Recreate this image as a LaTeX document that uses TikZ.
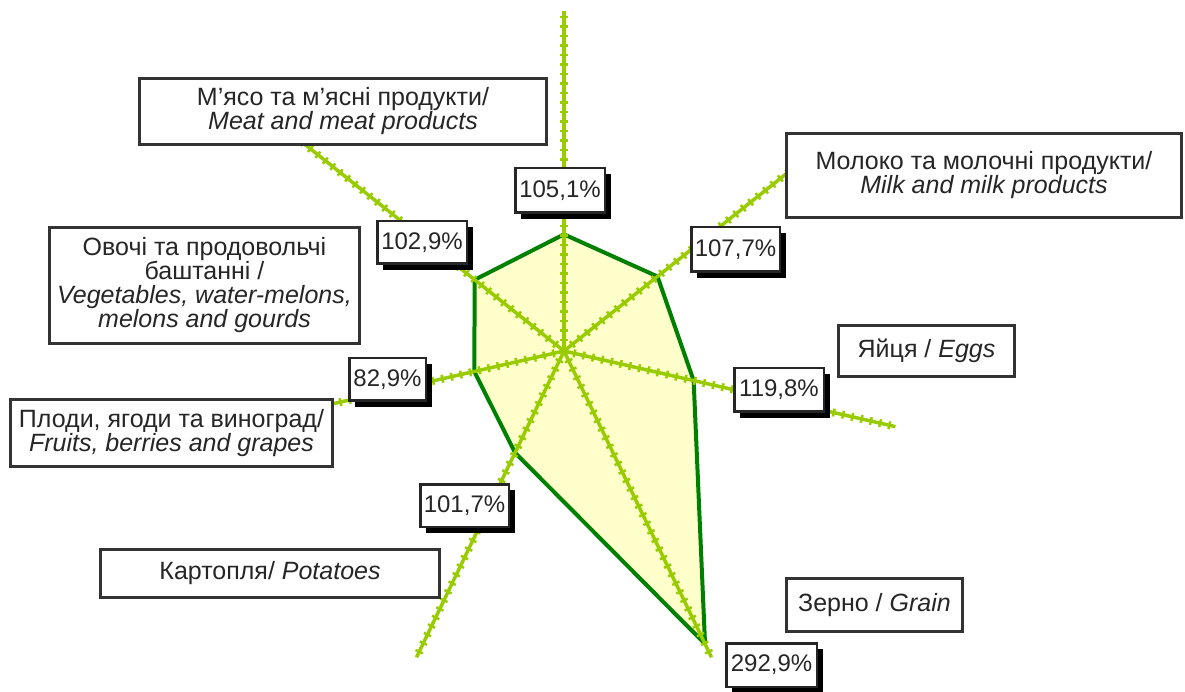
\documentclass[tikz,border=0pt]{standalone}
\usepackage{fontspec}
\setmainfont{Liberation Sans}
\usetikzlibrary{shadows}
\definecolor{axisgreen}{HTML}{99CC00}
\definecolor{polyline}{HTML}{008000}
\definecolor{polyfill}{HTML}{FFFFCC}
\begin{document}
\begin{tikzpicture}[x=1pt,y=1pt,
  catbox/.style={draw=black!80, line width=3pt, fill=white, align=center,
    text=black!85, font=\fontsize{25}{24}\selectfont, inner sep=0pt},
  valbox/.style={draw=black!85, line width=2.5pt, fill=white, text=black!85,
    font=\fontsize{24}{26}\selectfont, inner sep=0pt,
    general shadow={fill=black, shadow xshift=6pt, shadow yshift=-6pt}},
  axisline/.style={axisgreen, line width=3.5pt},
  axisticks/.style={axisgreen, line width=8pt, dash pattern=on 2.5pt off 7pt},
  radar/.style={draw=polyline, line width=4pt, fill=polyfill, line join=round}]
\useasboundingbox (0,0) rectangle (1185,691);
\coordinate (c) at (564,340);
% axis ends
\path (c) ++(90:340)      coordinate (e1);
\path (c) ++(38.57:340)   coordinate (e2);
\path (c) ++(-12.86:340)  coordinate (e3);
\path (c) ++(-64.29:340)  coordinate (e4);
\path (c) ++(-115.71:340) coordinate (e5);
\path (c) ++(-167.14:340) coordinate (e6);
\path (c) ++(141.43:340)  coordinate (e7);
% data points
\path (c) ++(90:{105.1*1.11})      coordinate (v1);
\path (c) ++(38.57:{107.7*1.11})   coordinate (v2);
\path (c) ++(-12.86:{119.8*1.11})  coordinate (v3);
\path (c) ++(-64.29:{292.9*1.11})  coordinate (v4);
\path (c) ++(-115.71:{101.7*1.11}) coordinate (v5);
\path (c) ++(-167.14:{82.9*1.11})  coordinate (v6);
\path (c) ++(141.43:{102.9*1.11})  coordinate (v7);
% polygon
\draw[radar] (v1) -- (v2) -- (v3) -- (v4) -- (v5) -- (v6) -- (v7) -- cycle;
% axes
\foreach \e in {e1,e2,e3,e4,e5,e6,e7}{
  \draw[axisline] (c) -- (\e);
  \draw[axisticks] (c) -- (\e);
}
% category boxes
\node[catbox, minimum width=407, minimum height=66] (meat) at (343,579.5)
  {М’ясо та м’ясні продукти/\\\textit{Meat and meat products}};
\node[catbox, minimum width=395, minimum height=84] (milk) at (984,515.5)
  {Молоко та молочні продукти/\\\textit{Milk and milk products}};
\node[catbox, minimum width=310, minimum height=116] (veg) at (204.5,405.5)
  {Овочі та продовольчі\\баштанні /\\\textit{Vegetables, water-melons,}\\\textit{melons and gourds}};
\node[catbox, minimum width=176, minimum height=51] (eggs) at (926.5,340)
  {Яйця / \textit{Eggs}};
\node[catbox, minimum width=322, minimum height=67] (fruits) at (171.5,258)
  {Плоди, ягоди та виноград/\\\textit{Fruits, berries and grapes}};
\node[catbox, minimum width=339, minimum height=48] (potatoes) at (270,117.5)
  {Картопля/ \textit{Potatoes}};
\node[catbox, minimum width=176, minimum height=53] (grain) at (874.5,86)
  {Зерно / \textit{Grain}};
% value boxes
\node[valbox, minimum width=89.5, minimum height=44.5] (p1) at (560,500.5) {105,1\%};
\node[valbox, minimum width=88.5, minimum height=44.5] (p2) at (735.5,441.5) {107,7\%};
\node[valbox, minimum width=89.5, minimum height=43.5] (p3) at (779,301) {119,8\%};
\node[valbox, minimum width=90.5, minimum height=43.5] (p4) at (771.5,26) {292,9\%};
\node[valbox, minimum width=88.5, minimum height=42.5] (p5) at (464.5,185.5) {101,7\%};
\node[valbox, minimum width=76.5, minimum height=42.5] (p6) at (387.5,311.5) {82,9\%};
\node[valbox, minimum width=89.5, minimum height=42.5] (p7) at (422,448.5) {102,9\%};
\end{tikzpicture}
\end{document}
